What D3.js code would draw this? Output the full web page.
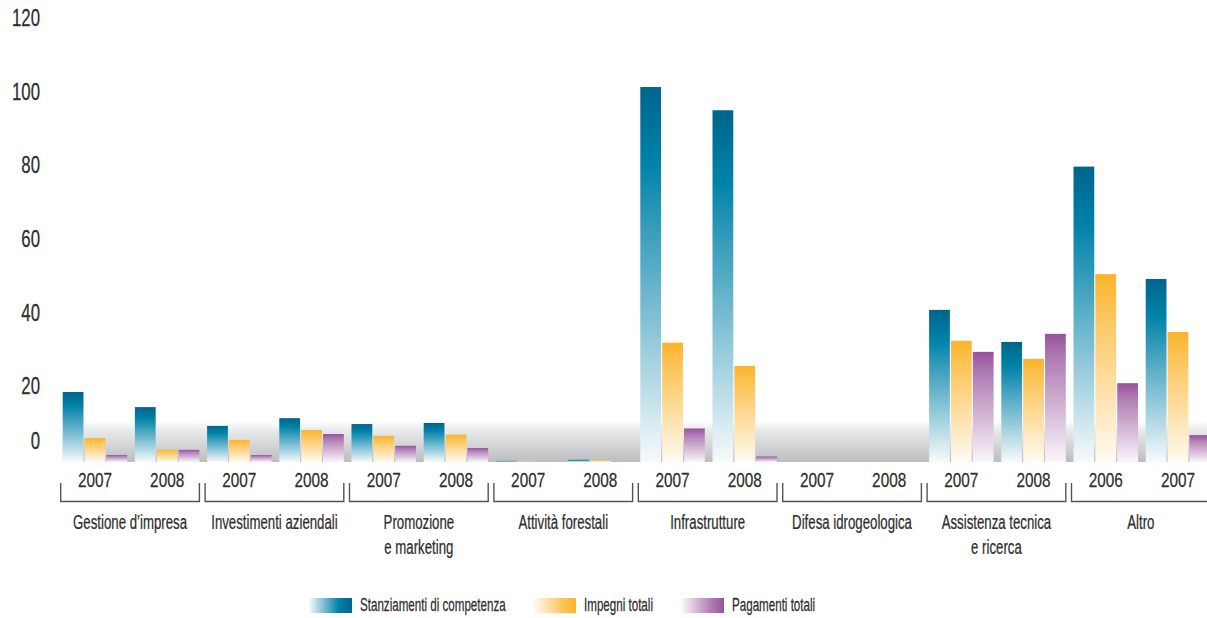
<!DOCTYPE html>
<html><head><meta charset="utf-8">
<script src="https://cdn.jsdelivr.net/npm/d3@7"></script>
<style>
html,body{margin:0;padding:0;background:#fff;}
svg text{font-family:"Liberation Sans",Arial,sans-serif;fill:#2d2d2d;stroke:#2d2d2d;stroke-width:0.25;}
</style></head><body>
<svg id="chart" width="1207" height="618"></svg>
<script>
// ---- data ----
const categories = ["Gestione d\u2019impresa","Investimenti aziendali","Promozione\ne marketing","Attività forestali","Infrastrutture","Difesa idrogeologica","Assistenza tecnica\ne ricerca","Altro"];
const years = [["2007","2008"],["2007","2008"],["2007","2008"],["2007","2008"],["2007","2008"],["2007","2008"],["2007","2008"],["2006","2007"]];
const seriesNames = ["Stanziamenti di competenza","Impegni totali","Pagamenti totali"];
const stanziamenti = [19.0,14.9, 9.8,11.9, 10.3,10.6, 0.3,0.6, 101.8,95.5, 0,0, 41.3,32.6, 80.2,49.7];
const impegni      = [6.5,3.3,  6.0,8.7,  7.1,7.4,   0.2,0.5, 32.4,26.1, 0,0, 32.9,28.0, 51.0,35.3];
const pagamenti    = [1.9,3.3,  1.9,7.6,  4.4,3.8,   0,0,     9.1,1.5,   0,0, 29.9,34.8, 21.4,7.3];
const yTicks = [0,20,40,60,80,100,120];

const svg = d3.select("#chart");
const defs = svg.append("defs");
const colors = [
  {top:"#00648c", mid:"#0082a9", bot:"#f7fafc"},
  {top:"#fbb42a", mid:"#fcc458", bot:"#fffaf2"},
  {top:"#98529e", mid:"#b07db4", bot:"#faf5fa"}
];
colors.forEach((c,i)=>{
  const g = defs.append("linearGradient").attr("id","bar"+i).attr("x1",0).attr("y1",0).attr("x2",0).attr("y2",1);
  g.append("stop").attr("offset","0").attr("stop-color",c.top);
  g.append("stop").attr("offset","0.2").attr("stop-color",c.mid);
  g.append("stop").attr("offset","1").attr("stop-color",c.bot);
  const l = defs.append("linearGradient").attr("id","leg"+i).attr("x1",0).attr("y1",0).attr("x2",1).attr("y2",0);
  l.append("stop").attr("offset","0").attr("stop-color","#ffffff");
  l.append("stop").attr("offset","0.7").attr("stop-color",c.mid);
  l.append("stop").attr("offset","1").attr("stop-color",c.top);
});
const fg = defs.append("linearGradient").attr("id","floor").attr("x1",0).attr("y1",0).attr("x2",0).attr("y2",1);
fg.append("stop").attr("offset","0").attr("stop-color","#ffffff");
fg.append("stop").attr("offset","0.22").attr("stop-color","#e9eaeb");
fg.append("stop").attr("offset","1").attr("stop-color","#bcbdbf");

const y = d3.scaleLinear().domain([0,120]).range([462,20]);
const groups = d3.range(16);
const x0 = d3.scaleBand().domain(groups).range([62.7, 62.7 + 72.2*(16-0.1066)]).paddingInner(0.1066).paddingOuter(0);
const x1 = d3.scaleBand().domain([0,1,2]).range([0, x0.bandwidth()]).paddingInner(0.05);

// condensed text helper
function ctext(parent, x, yy, str, size, sx, anchor){
  return parent.append("text")
    .attr("transform", `translate(${x},${yy}) scale(${sx},1)`)
    .attr("text-anchor", anchor || "middle")
    .attr("font-size", size)
    .text(str);
}

// floor
svg.append("rect").attr("x", x0(0)).attr("y", 421).attr("width", 1207 - x0(0)).attr("height", y(0)-421)
  .attr("fill","url(#floor)");

// y axis labels
const ya = svg.append("g");
yTicks.forEach(t => ctext(ya, 40, y(t) + (t===0 ? -13 : 6), String(t), 23, 0.73, "end"));

// bars
const values = [stanziamenti, impegni, pagamenti];
const data = [];
groups.forEach(g => values.forEach((arr,s) => data.push({g, s, v:arr[g]})));
svg.append("g").selectAll("rect").data(data.filter(d=>d.v>0)).join("rect")
  .attr("x", d => x0(d.g) + x1(d.s))
  .attr("y", d => y(d.v))
  .attr("width", x1.bandwidth())
  .attr("height", d => y(0) - y(d.v))
  .attr("fill", d => "url(#bar"+d.s+")");

// year labels
const yl = svg.append("g");
groups.forEach(g => ctext(yl, x0(g) + x0.bandwidth()/2, 487, years[Math.floor(g/2)][g%2], 21, 0.73));

// category brackets
const br = svg.append("g").attr("fill","none").attr("stroke","#555").attr("stroke-width",1.4);
const cl = svg.append("g");
categories.forEach((c,i)=>{
  const xa = x0(2*i) - 2, xb = x0(2*i+1) + x0.bandwidth();
  br.append("path").attr("d", `M${xa},483V501.5H${xb}V483`);
  c.split("\n").forEach((line,k)=> ctext(cl, (xa+xb)/2, 529 + k*25, line, 21, 0.63));
});

// legend
const legX = [308, 532, 680];
const lg = svg.append("g");
seriesNames.forEach((n,i)=>{
  lg.append("rect").attr("x",legX[i]).attr("y",598).attr("width",44).attr("height",15).attr("fill","url(#leg"+i+")");
  ctext(lg, legX[i]+52, 611, n, 18, 0.645, "start");
});
</script>
</body></html>
